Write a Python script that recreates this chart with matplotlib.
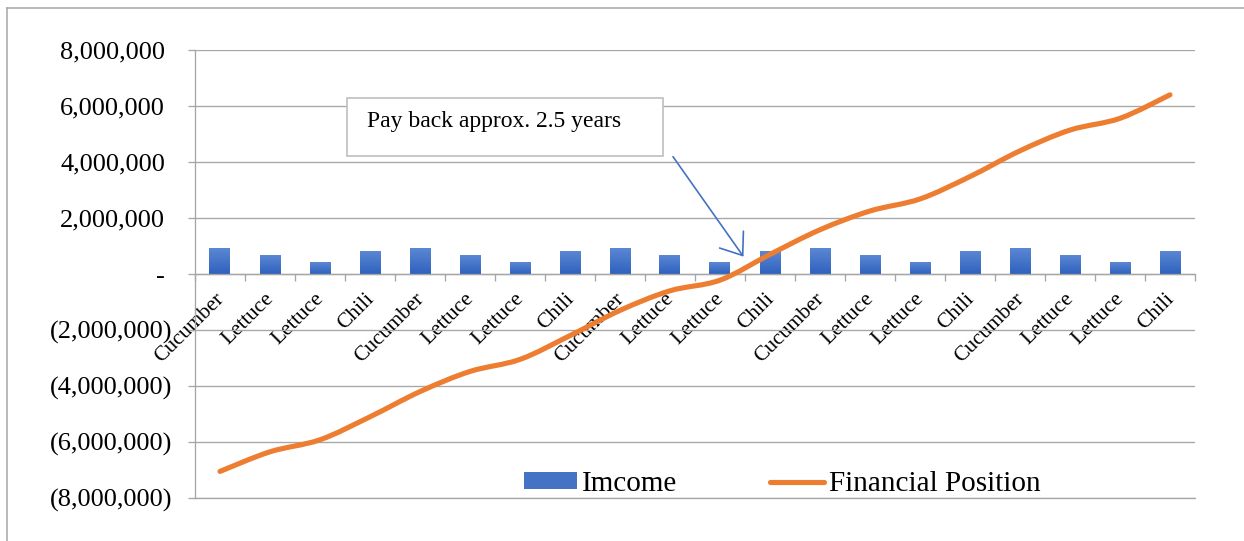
import numpy as np
import matplotlib
matplotlib.use('Agg')
import matplotlib.pyplot as plt
from matplotlib.path import Path
from matplotlib.patches import PathPatch, Rectangle, Patch, FancyArrowPatch
from matplotlib.lines import Line2D
from matplotlib.ticker import FixedLocator, FuncFormatter
from matplotlib.transforms import ScaledTranslation

plt.rcParams['font.family'] = ['Liberation Serif', 'DejaVu Serif']

crops = ["Cucumber", "Lettuce", "Lettuce", "Chili",
         "Cucumber", "Lettuce", "Lettuce", "Chili",
         "Cucumber", "Lettuce", "Lettuce", "Chili",
         "Cucumber", "Lettuce", "Lettuce", "Chili",
         "Cucumber", "Lettuce", "Lettuce", "Chili"]
income = [925000, 675000, 425000, 815000,
          925000, 675000, 425000, 815000,
          925000, 675000, 425000, 815000,
          925000, 675000, 425000, 815000,
          925000, 675000, 425000, 815000]
financial = [-7050000, -6350000, -5920000, -5100000, -4200000,
             -3480000, -3050000, -2200000, -1300000, -600000,
             -220000, 700000, 1580000, 2250000, 2680000,
             3480000, 4400000, 5140000, 5560000, 6400000]
y_ticks = [-8000000, -6000000, -4000000, -2000000, 0,
           2000000, 4000000, 6000000, 8000000]

BAR_TOP = '#5B87D4'
BAR_BOT = '#2F62BE'
ORANGE = '#ED7D31'
GRID = '#A6A6A6'

fig = plt.figure(figsize=(12.44, 5.41), dpi=100)
ax = fig.add_axes([195/1244, 1 - 498/541, 1000/1244, 448/541])

x = np.arange(len(crops))

# bars with a vertical gradient
bars = ax.bar(x, income, width=0.42, color='none', edgecolor='none', zorder=2)
grad = np.linspace(1, 0, 64).reshape(-1, 1)
cmap = matplotlib.colors.LinearSegmentedColormap.from_list('g', [BAR_BOT, BAR_TOP])
for b in bars:
    im = ax.imshow(grad, extent=[b.get_x(), b.get_x() + b.get_width(), 0, b.get_height()],
                   aspect='auto', cmap=cmap, zorder=2, origin='upper')
    im.set_clip_path(b)

# smoothed financial position line (bezier through the points)
pts = np.column_stack([x, financial]).astype(float)
n = len(pts)
verts = [pts[0]]
codes = [Path.MOVETO]
for i in range(n - 1):
    p0 = pts[max(i - 1, 0)]
    p1 = pts[i]
    p2 = pts[i + 1]
    p3 = pts[min(i + 2, n - 1)]
    verts += [p1 + (p2 - p0) / 6, p2 - (p3 - p1) / 6, p2]
    codes += [Path.CURVE4] * 3
ax.add_patch(PathPatch(Path(verts, codes), fill=False, edgecolor=ORANGE,
                       lw=3.7, capstyle='round', joinstyle='round', zorder=3))

ax.set_xlim(-0.5, len(crops) - 0.5)
ax.set_ylim(-8000000, 8000000)

# axes styling
for s in ['top', 'right']:
    ax.spines[s].set_visible(False)
ax.spines['left'].set_color(GRID)
ax.spines['left'].set_linewidth(0.95)
ax.spines['bottom'].set_position(('data', 0))
ax.spines['bottom'].set_color(GRID)
ax.spines['bottom'].set_linewidth(0.95)
ax.yaxis.grid(True, color=GRID, linewidth=0.95)
ax.axhline(-8000000, color=GRID, linewidth=0.95, clip_on=False, zorder=1)
ax.set_axisbelow(True)

ax.yaxis.set_major_locator(FixedLocator(y_ticks))


def fmt(v, pos):
    if v == 0:
        return '-'
    if v < 0:
        return f'({abs(v):,.0f})'
    return f'{v:,.0f}'


ax.yaxis.set_major_formatter(FuncFormatter(fmt))
ax.tick_params(axis='y', length=5, width=0.95, color=GRID, pad=16.5,
               labelsize=19, labelcolor='black')
for lab, v in zip(ax.get_yticklabels(), y_ticks):
    if v < 0:
        lab.set_transform(lab.get_transform() + ScaledTranslation(7/100, 0, fig.dpi_scale_trans))

ax.set_xticks(x)
ax.set_xticklabels(crops, rotation=45, ha='right', fontsize=15.5)
ax.set_xticks(np.arange(-0.5, len(crops), 1), minor=True)
ax.tick_params(axis='x', which='major', length=0, pad=11)
ax.tick_params(axis='x', which='minor', length=5, width=0.95, color=GRID)
for lab in ax.get_xticklabels():
    lab.set_transform(lab.get_transform() + ScaledTranslation(8/100, 0, fig.dpi_scale_trans))

# annotation box and arrow
ax.add_patch(Rectangle((2.54, 4220000), 6.32, 2080000, facecolor='white',
                       edgecolor='#BFBFBF', lw=1.2, zorder=4))
ax.text(2.94, 5430000, 'Pay back approx. 2.5 years', fontsize=17,
        va='center', ha='left', zorder=5)
ax.add_patch(FancyArrowPatch((9.06, 4190000), (10.47, 620000),
                             arrowstyle='->,head_length=1.4,head_width=1.05',
                             mutation_scale=10, color='#4472C4', lw=1.2,
                             shrinkA=0, shrinkB=0, zorder=5))

# legend
handles = [Patch(facecolor='#4472C4', edgecolor='none'),
           Line2D([], [], color=ORANGE, lw=3.7, solid_capstyle='round')]
ax.legend(handles, ['Imcome', 'Financial Position'], loc='center',
          bbox_to_anchor=(0.587, 0.031), ncol=2, frameon=False, fontsize=21,
          handlelength=1.82, handleheight=0.5, handletextpad=0.17,
          columnspacing=3.2, borderpad=0, borderaxespad=0)

# outer chart border (top and left)
fig.add_artist(Line2D([7/1244, 1], [1 - 8/541, 1 - 8/541], color=GRID, lw=1.1))
fig.add_artist(Line2D([7/1244, 7/1244], [0, 1 - 8/541], color=GRID, lw=1.1))

plt.savefig('out.png', dpi=100)
plt.close()
